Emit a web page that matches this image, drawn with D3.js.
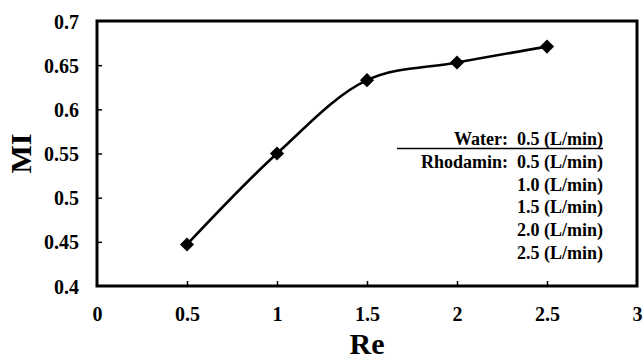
<!DOCTYPE html>
<html>
<head>
<meta charset="utf-8">
<script src="https://cdn.jsdelivr.net/npm/d3@7"></script>
<style>
  html, body { margin: 0; padding: 0; background: #fff; }
  svg { display: block; }
</style>
</head>
<body>
<svg id="chart" width="644" height="361"></svg>
<script>
// Mixing index versus Reynolds number
const reValues = [0.5, 1.0, 1.5, 2.0, 2.5];
const miValues = [0.447, 0.550, 0.633, 0.653, 0.671];

const xTicks = [0, 0.5, 1, 1.5, 2, 2.5, 3];
const yTicks = [0.4, 0.45, 0.5, 0.55, 0.6, 0.65, 0.7];

const legendLines = [
  ["Water:", "0.5 (L/min)"],
  ["Rhodamin:", "0.5 (L/min)"],
  ["", "1.0 (L/min)"],
  ["", "1.5 (L/min)"],
  ["", "2.0 (L/min)"],
  ["", "2.5 (L/min)"]
];

const FONT = "'Liberation Serif', 'Times New Roman', Times, serif";

const svg = d3.select("#chart");
const plot = { left: 97, right: 637, top: 21, bottom: 286 };

const x = d3.scaleLinear().domain([0, 3]).range([plot.left, plot.right]);
const y = d3.scaleLinear().domain([0.4, 0.7]).range([plot.bottom, plot.top]);

function styleText(sel, size) {
  sel.style("font-family", FONT).style("font-weight", "bold")
     .style("font-size", size + "px").style("fill", "#000");
}

// Inward ticks on the left and bottom axes
const yAxis = d3.axisLeft(y).tickValues(yTicks).tickSizeInner(-5).tickSizeOuter(0)
  .tickFormat(d => String(+d.toFixed(2)));
const xAxis = d3.axisBottom(x).tickValues(xTicks).tickSizeInner(-5).tickSizeOuter(0)
  .tickFormat(d => String(d));

const gy = svg.append("g").attr("transform", `translate(${plot.left},0)`).call(yAxis);
gy.select(".domain").remove();
gy.selectAll(".tick line").attr("stroke", "#000").attr("stroke-width", 1.5)
  .filter(d => d === 0.4 || d === 0.7).remove();
gy.selectAll(".tick text").attr("x", -18).attr("dy", "0.35em").call(styleText, 20);

const gx = svg.append("g").attr("transform", `translate(0,${plot.bottom})`).call(xAxis);
gx.select(".domain").remove();
gx.selectAll(".tick line").attr("stroke", "#000").attr("stroke-width", 1.5)
  .filter(d => d === 0 || d === 3).remove();
gx.selectAll(".tick text").attr("y", 35).attr("dy", null).call(styleText, 20);

// Plot frame
svg.append("rect")
  .attr("x", plot.left).attr("y", plot.top)
  .attr("width", plot.right - plot.left).attr("height", plot.bottom - plot.top)
  .attr("fill", "none").attr("stroke", "#000").attr("stroke-width", 3);

// Smoothed data line
const pts = reValues.map((r, i) => [r, miValues[i]]);
const line = d3.line().x(d => x(d[0])).y(d => y(d[1])).curve(d3.curveCatmullRom.alpha(0.5));
svg.append("path").datum(pts).attr("d", line)
  .attr("fill", "none").attr("stroke", "#000").attr("stroke-width", 2.6);

// Diamond markers
const diamond = d3.symbol().type(d3.symbolSquare).size(100);
svg.selectAll(".marker").data(pts).join("path")
  .attr("class", "marker")
  .attr("d", diamond)
  .attr("transform", d => `translate(${x(d[0])},${y(d[1])}) rotate(45)`)
  .attr("fill", "#000");

// Legend block: flow rates
const legendRight = 603;
const legendTop = 145;
const legendStep = 22.8;
const lg = svg.append("g");
legendLines.forEach((row, i) => {
  lg.append("text")
    .attr("x", legendRight).attr("y", legendTop + i * legendStep)
    .attr("text-anchor", "end")
    .style("white-space", "pre")
    .call(styleText, 18)
    .text(row[0] ? row[0] + "\u00a0\u00a0" + row[1] : row[1]);
});
lg.append("line")
  .attr("x1", 397).attr("x2", legendRight)
  .attr("y1", legendTop + 3.5).attr("y2", legendTop + 3.5)
  .attr("stroke", "#000").attr("stroke-width", 1.5);

// Axis titles
svg.append("text")
  .attr("x", (plot.left + plot.right) / 2).attr("y", 354)
  .attr("text-anchor", "middle")
  .call(styleText, 30)
  .text("Re");

svg.append("text")
  .attr("transform", `translate(31,${(plot.top + plot.bottom) / 2}) rotate(-90)`)
  .attr("text-anchor", "middle")
  .call(styleText, 30)
  .text("MI");
</script>
</body>
</html>
